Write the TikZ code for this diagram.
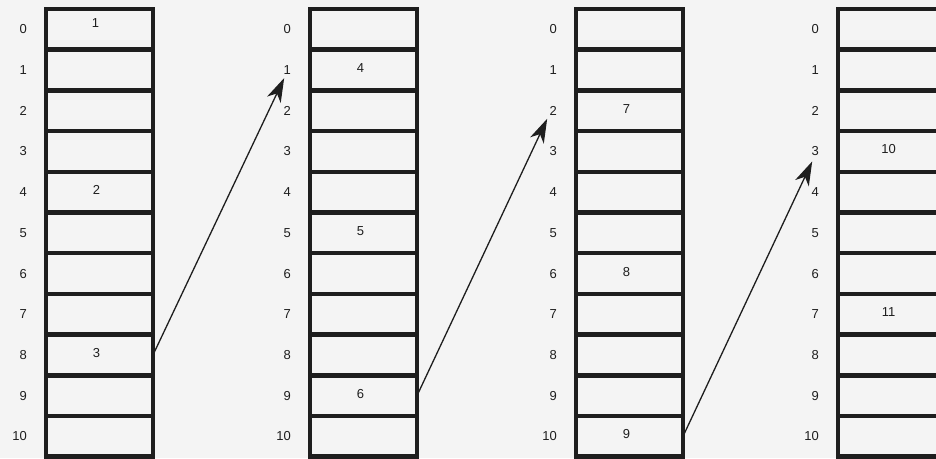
\documentclass[tikz,border=0pt]{standalone}
\usepackage{fontspec}
\setmainfont{Liberation Sans}
\usetikzlibrary{arrows.meta,positioning,calc}
\definecolor{fundo}{HTML}{F4F4F4}
\definecolor{traco}{HTML}{1E1E1E}

\begin{document}
\begin{tikzpicture}[
      x=1pt, y=-1pt,
      >={Stealth[length=24pt,width=15pt,inset=7pt]},
      celula/.style={draw=traco, line width=4.5pt, minimum width=107pt,
        minimum height=40.7pt, inner sep=0pt, outer sep=0pt, anchor=north west},
      indice/.style={font=\fontsize{13}{14}\selectfont, text=traco,
        anchor=east, inner sep=0pt},
      valor/.style={font=\fontsize{13}{14}\selectfont, text=traco, inner sep=0pt}
  ]
      \useasboundingbox[fill=fundo] (0,0) rectangle (936,458);
      \clip (0,0) rectangle (936,458);

      % Colunas da tabela: células e índices 0..10
      \foreach \c/\x in {1/46, 2/310, 3/576, 4/838} {
          \foreach \r in {0,...,10} {
              \node[celula] (c\c-\r) at (\x, 9+40.7*\r) {};
              \node[indice] (l\c-\r) at (\x-19, 29.35+40.7*\r) {\r};
          }
      }

      % Valores guardados nas células
      \foreach \c/\r/\v in {1/4/2, 1/8/3, 2/1/4, 2/5/5, 2/9/6,
                            3/2/7, 3/6/8, 3/10/9, 4/3/10, 4/7/11} {
          \node[valor] (v\c-\r) at ([xshift=-3pt, yshift=2pt]c\c-\r.center) {\v};
      }
      \node[valor] (v1-0) at ([xshift=-4pt, yshift=6pt]c1-0.center) {1};

      % Pontas das setas, logo abaixo dos índices
      \coordinate (p2) at ([xshift=-3pt, yshift=-8pt]l2-1.center);
      \coordinate (p3) at ([xshift=-6pt, yshift=-8pt]l3-2.center);
      \coordinate (p4) at ([xshift=-3pt, yshift=-10pt]l4-3.center);

      % Setas de uma coluna para a seguinte
      \draw[->, line width=1.3pt, traco] (c1-8.east) -- (p2);
      \draw[->, line width=1.3pt, traco] (c2-9.east) -- (p3);
      \draw[->, line width=1.3pt, traco] (c3-10.east) -- (p4);

  \end{tikzpicture}
\end{document}
